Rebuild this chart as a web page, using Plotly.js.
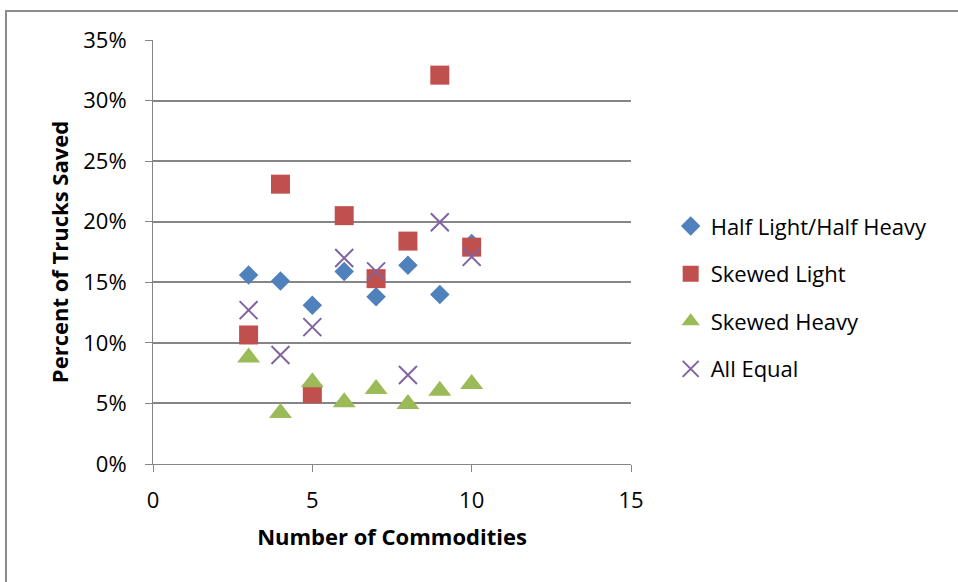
<!DOCTYPE html>
<html><head><meta charset="utf-8">
<script src="https://cdn.plot.ly/plotly-3.0.1.min.js"></script>
<style>
html,body{margin:0;padding:0;background:#fff;}
#chart{width:958px;height:582px;position:relative;}
#frame{position:absolute;left:5px;top:10px;width:960px;height:600px;border-left:2px solid #8c8c8c;border-top:2px solid #8c8c8c;pointer-events:none;z-index:10;}
</style></head>
<body>
<div id="chart"><div id="frame"></div></div>
<script>
const commodities = [3, 4, 5, 6, 7, 8, 9, 10];
const halfLightHalfHeavy = [0.156, 0.151, 0.131, 0.159, 0.138, 0.164, 0.140, 0.182];
const skewedLight = [0.1065, 0.231, 0.058, 0.205, 0.153, 0.184, 0.321, 0.179];
const skewedHeavy = [0.088, 0.042, 0.0675, 0.051, 0.062, 0.0495, 0.0605, 0.066];
const allEqual = [0.127, 0.090, 0.113, 0.170, 0.159, 0.0735, 0.1995, 0.171];
const yTickVals = [0, 0.05, 0.10, 0.15, 0.20, 0.25, 0.30, 0.35];
const yTickText = ['0%', '5%', '10%', '15%', '20%', '25%', '30%', '35%'];

const font = '"Open Sans", Lato, sans-serif';
const traces = [
  {name: 'Half Light/Half Heavy', y: halfLightHalfHeavy, marker: {symbol: 'diamond', size: 15, color: '#4F81BD'}},
  {name: 'Skewed Light', y: skewedLight, marker: {symbol: 'square', size: 19, color: '#C0504D'}},
  {name: 'Skewed Heavy', y: skewedHeavy, marker: {symbol: 'triangle-up', size: 20, color: '#9BBB59'}},
  {name: 'All Equal', y: allEqual, marker: {symbol: 'x-thin-open', size: 18, color: '#8064A2', line: {color: '#8064A2', width: 2}}}
].map((t, i) => Object.assign({x: commodities, type: 'scatter', mode: 'markers', legendgroup: 'g' + i}, t));

const layout = {
  width: 958, height: 582,
  margin: {l: 153, r: 327, t: 40, b: 118},
  paper_bgcolor: '#fff', plot_bgcolor: '#fff',
  showlegend: true,
  font: {family: font, size: 22, color: '#000'},
  xaxis: {
    range: [0, 15], tickvals: [0, 5, 10, 15], ticktext: ['0', '5', '10', '15'],
    showgrid: false, zeroline: false, showline: true, linecolor: '#868686', linewidth: 1,
    ticks: 'outside', ticklen: 7, tickcolor: '#868686',
    tickfont: {family: font, size: 22}, ticklabelstandoff: 10,
    title: {text: '<b>Number of Commodities</b>', font: {family: font, size: 22}, standoff: 16}
  },
  yaxis: {
    range: [0, 0.35], tickvals: yTickVals, ticktext: yTickText,
    showgrid: true, gridcolor: '#868686', gridwidth: 2,
    zeroline: false, showline: true, linecolor: '#868686', linewidth: 1,
    ticks: 'outside', ticklen: 7, tickcolor: '#868686',
    tickfont: {family: font, size: 22}, ticklabelstandoff: 14,
    title: {text: '<b>Percent of Trucks Saved</b>', font: {family: font, size: 22}, standoff: 8}
  },
  legend: {
    x: 1.083, xanchor: 'left', y: 0.392, yanchor: 'middle',
    font: {family: font, size: 22}, tracegroupgap: 16, itemwidth: 30,
    bgcolor: 'rgba(0,0,0,0)'
  }
};
Plotly.newPlot('chart', traces, layout, {displayModeBar: false, staticPlot: true});
</script>
</body></html>
